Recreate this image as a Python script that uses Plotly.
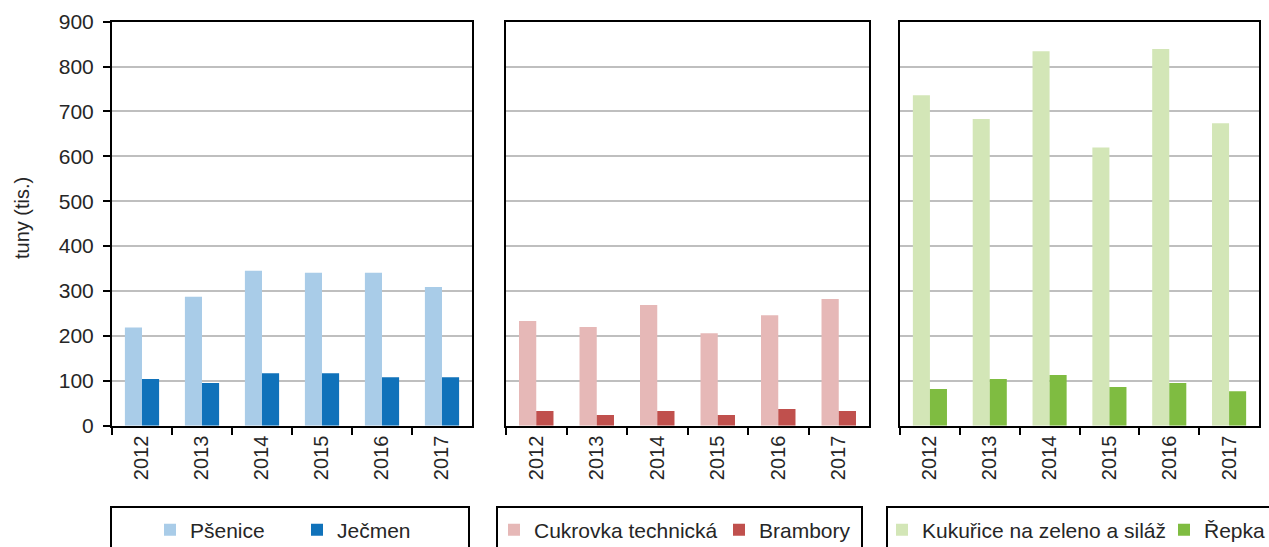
import plotly.graph_objects as go

years = ["2012", "2013", "2014", "2015", "2016", "2017"]

psenice = [219, 287, 345, 341, 341, 309]
jecmen = [104, 95, 117, 117, 108, 108]

cukrovka = [233, 220, 269, 206, 246, 282]
brambory = [33, 24, 33, 24, 37, 33]

kukurice = [736, 683, 834, 620, 839, 674]
repka = [82, 104, 113, 86, 95, 77]

W, H = 1269, 547
font = "Liberation Sans, Arial, sans-serif"
text_color = "#262626"


def px_x(p):
    return p / W


def px_y(p):
    return 1 - p / H


fig = go.Figure()

panels = [
    (("Pšenice", psenice, "#A9CCE8"), ("Ječmen", jecmen, "#1072BA")),
    (("Cukrovka technická", cukrovka, "#E6B8B7"), ("Brambory", brambory, "#C0504D")),
    (("Kukuřice na zeleno a siláž", kukurice, "#D3E6B7"), ("Řepka", repka, "#7FBC41")),
]

# one legend per series, x position of the legend (px)
legend_x = [150, 297, 494, 719, 882, 1164]

n = 0
for i, (a, b) in enumerate(panels):
    suffix = "" if i == 0 else str(i + 1)
    for name, vals, color in (a, b):
        leg = "legend" if n == 0 else "legend" + str(n + 1)
        fig.add_trace(
            go.Bar(
                x=years,
                y=vals,
                name=name,
                marker=dict(color=color, line=dict(width=0)),
                xaxis="x" + suffix,
                yaxis="y" + suffix,
                legend=leg,
                showlegend=True,
            )
        )
        n += 1

# panel edges in pixels
px_domains = [(112, 472), (506, 869), (900, 1259)]
y_dom = [px_y(425.7), px_y(21.7)]

layout = dict(
    width=W,
    height=H,
    margin=dict(l=0, r=0, t=0, b=0, autoexpand=False),
    paper_bgcolor="white",
    plot_bgcolor="white",
    showlegend=True,
    barmode="group",
    bargap=0.43,
    bargroupgap=0,
    font=dict(family=font, size=21, color=text_color),
)

for i, (x0, x1) in enumerate(px_domains):
    suffix = "" if i == 0 else str(i + 1)
    layout["xaxis" + suffix] = dict(
        domain=[px_x(x0), px_x(x1)],
        anchor="y" + suffix,
        automargin=False,
        showline=True,
        linecolor="black",
        linewidth=2,
        mirror=True,
        ticks="outside",
        tickson="boundaries",
        ticklen=7,
        tickwidth=2,
        tickcolor="black",
        tickangle=-90,
        tickfont=dict(size=20),
        showgrid=False,
    )
    layout["yaxis" + suffix] = dict(
        domain=y_dom,
        anchor="x" + suffix,
        automargin=False,
        range=[0, 900],
        dtick=100,
        showline=True,
        linecolor="black",
        linewidth=2,
        mirror=True,
        showgrid=True,
        gridcolor="#BFBFBF",
        gridwidth=2,
        zeroline=False,
        showticklabels=(i == 0),
        ticks="outside" if i == 0 else "",
        ticklen=7,
        tickwidth=2,
        tickcolor="black",
        ticklabelstandoff=5,
        tickfont=dict(size=21),
    )

# legends placed inside boxes below each panel
leg_y = px_y(530)
for k, lx in enumerate(legend_x):
    key = "legend" if k == 0 else "legend" + str(k + 1)
    layout[key] = dict(
        orientation="h", x=px_x(lx), y=leg_y, xanchor="left", yanchor="middle",
        font=dict(size=21), bgcolor="rgba(0,0,0,0)", visible=True,
    )

layout["annotations"] = [
    dict(
        text="tuny (tis.)", xref="paper", yref="paper",
        x=px_x(22), y=px_y(218), textangle=-90, showarrow=False,
        font=dict(size=20), xanchor="center", yanchor="middle",
    )
]

fig.update_layout(**layout)

# legend frames below the panels
boxes = [(111, 469), (497, 862), (887, 1300)]
for x0, x1 in boxes:
    fig.add_shape(
        type="rect", xref="paper", yref="paper",
        x0=px_x(x0), x1=px_x(x1), y0=-0.1, y1=px_y(507),
        line=dict(color="black", width=2), fillcolor="rgba(0,0,0,0)",
        layer="below",
    )

fig.write_html(
    "out.html",
    config={"displayModeBar": False},
    post_script="document.body.style.margin='0';document.body.style.overflow='hidden';",
)
